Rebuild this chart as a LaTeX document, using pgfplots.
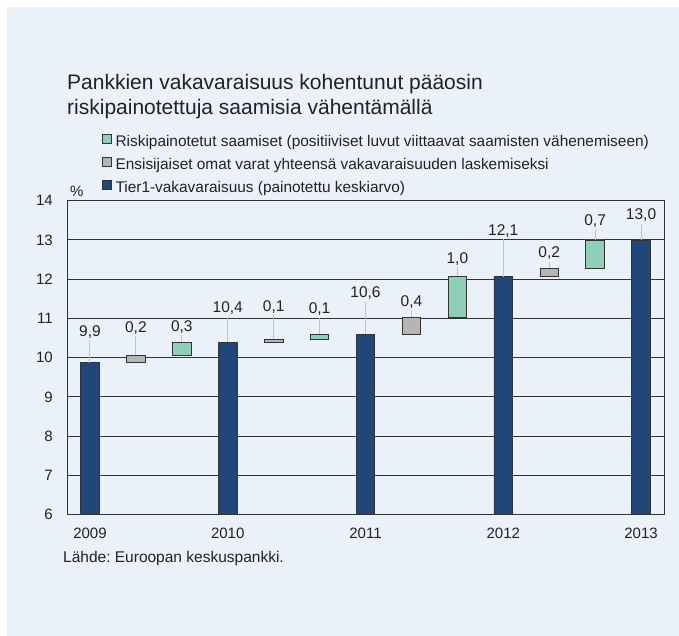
\documentclass[border=0pt]{standalone}
\usepackage{fontspec}
\setmainfont{Liberation Sans}
\usepackage{pgfplots}
\usepackage{pgfplotstable}
\pgfplotsset{compat=1.18}
\frenchspacing
\definecolor{bgc}{RGB}{234,241,248}
\definecolor{tierblue}{RGB}{31,71,122}
\definecolor{riskgreen}{RGB}{142,207,186}
\definecolor{ensgrey}{RGB}{180,181,183}
\definecolor{edge}{RGB}{51,51,51}
\definecolor{leader}{RGB}{195,195,195}
\definecolor{txt}{RGB}{34,34,34}

% Tier1 bars
\pgfplotstableread{
x  y
0  9.87
3  10.39
6  10.60
9  12.06
12 13.00
}\tierdata
% Ensisijaiset omat varat: base and height
\pgfplotstableread{
x  base  h
1  9.87  0.19
4  10.39 0.08
7  10.60 0.43
10 12.06 0.22
}\ensdata
% Riskipainotetut saamiset: base and height
\pgfplotstableread{
x  base  h
2  10.06 0.33
5  10.47 0.13
8  11.03 1.03
11 12.28 0.72
}\riskdata
% value labels: x, label base, leader length, text
\pgfplotstableread{
x  lb    e    lab
0  10.44 0.57 9,9
1  10.55 0.49 0,2
2  10.57 0.18 0,3
3  11.04 0.65 10,4
4  11.08 0.61 0,1
5  11.02 0.42 0,1
6  11.43 0.83 10,6
7  11.21 0.18 0,4
8  12.30 0.24 1,0
9  13.02 0.96 12,1
10 12.45 0.17 0,2
11 13.27 0.27 0,7
12 13.41 0.41 13,0
}\labdata

\pgfplotsset{
  base/.style={at={(67pt,121.3pt)}, anchor=south west, scale only axis,
    width=597pt, height=314pt, xmin=-0.5, xmax=12.5, ymin=6, ymax=14},
}

\begin{document}
\begin{tikzpicture}
\fill[white] (0pt,0pt) rectangle (679pt,636pt);
\fill[bgc] (7pt,0pt) rectangle (679pt,629pt);
\node[anchor=base west, inner sep=0pt, text=txt, font=\fontsize{21}{25}\selectfont] at (67pt,546.7pt) {Pankkien vakavaraisuus kohentunut pääosin};
\node[anchor=base west, inner sep=0pt, text=txt, font=\fontsize{21}{25}\selectfont] at (67pt,521.7pt) {riskipainotettuja saamisia vähentämällä};
\node[anchor=base west, inner sep=0pt, text=txt, font=\fontsize{15.5}{18}\selectfont] at (63pt,73.5pt) {Lähde: Euroopan keskuspankki.};
\node[anchor=base west, inner sep=0pt, text=txt, font=\fontsize{15}{18}\selectfont] at (70pt,439pt) {\%};

\begin{axis}[base,
  axis line style={edge, line width=1pt},
  ytick={6,...,14},
  ymajorgrids, grid style={edge, line width=1pt},
  xtick={0,3,6,9,12}, xticklabels={2009,2010,2011,2012,2013},
  tick style={draw=none},
  ticklabel style={font=\fontsize{15}{18}\selectfont, text=txt, inner sep=0pt},
  /pgf/number format/assume math mode=true,
  yticklabel style={anchor=east, xshift=-14pt},
  xticklabel style={anchor=north, yshift=-13pt},
  legend style={at={(0.0586,1.2116)}, anchor=north west, draw=none, fill=none,
    inner sep=0pt, outer sep=0pt, row sep=7.5pt,
    nodes={inner sep=0pt, text height=10.5pt, text depth=3pt, text=txt, font=\fontsize{15.4}{18}\selectfont},
    /tikz/every odd column/.append style={column sep=4pt}},
  legend cell align=left,
]
\addplot[ybar, bar width=0.405, fill=tierblue, draw=edge, line width=0.8pt, forget plot] table[x=x, y=y] {\tierdata};
\addplot[draw=none, mark=none, forget plot,
  error bars/.cd, y dir=minus, y explicit, error mark=none,
  error bar style={leader, line width=1pt}] table[x=x, y=lb, y error=e] {\labdata};
\addplot[draw=none, mark=none, forget plot, nodes near coords, point meta=explicit symbolic,
  nodes near coords style={anchor=base, inner sep=0pt, yshift=4pt, text=txt, font=\fontsize{15.5}{18}\selectfont}]
  table[x=x, y=lb, meta=lab] {\labdata};
\addlegendimage{legend image code/.code={\draw[fill=riskgreen, draw=edge, line width=0.6pt] (0pt,-0.5pt) rectangle (9pt,8.5pt);}}
\addlegendentry{Riskipainotetut saamiset (positiiviset luvut viittaavat saamisten vähenemiseen)}
\addlegendimage{legend image code/.code={\draw[fill=ensgrey, draw=edge, line width=0.6pt] (0pt,-0.5pt) rectangle (9pt,8.5pt);}}
\addlegendentry{Ensisijaiset omat varat yhteensä vakavaraisuuden laskemiseksi}
\addlegendimage{legend image code/.code={\draw[fill=tierblue, draw=edge, line width=0.6pt] (0pt,-0.5pt) rectangle (9pt,8.5pt);}}
\addlegendentry{Tier1-vakavaraisuus (painotettu keskiarvo)}
\end{axis}

\begin{axis}[base, hide axis, ybar stacked, bar width=0.405]
\addplot[draw=none, fill=none] table[x=x, y=base] {\ensdata};
\addplot[fill=ensgrey, draw=edge, line width=0.8pt] table[x=x, y=h] {\ensdata};
\end{axis}

\begin{axis}[base, hide axis, ybar stacked, bar width=0.405]
\addplot[draw=none, fill=none] table[x=x, y=base] {\riskdata};
\addplot[fill=riskgreen, draw=edge, line width=0.8pt] table[x=x, y=h] {\riskdata};
\end{axis}
\end{tikzpicture}
\end{document}
